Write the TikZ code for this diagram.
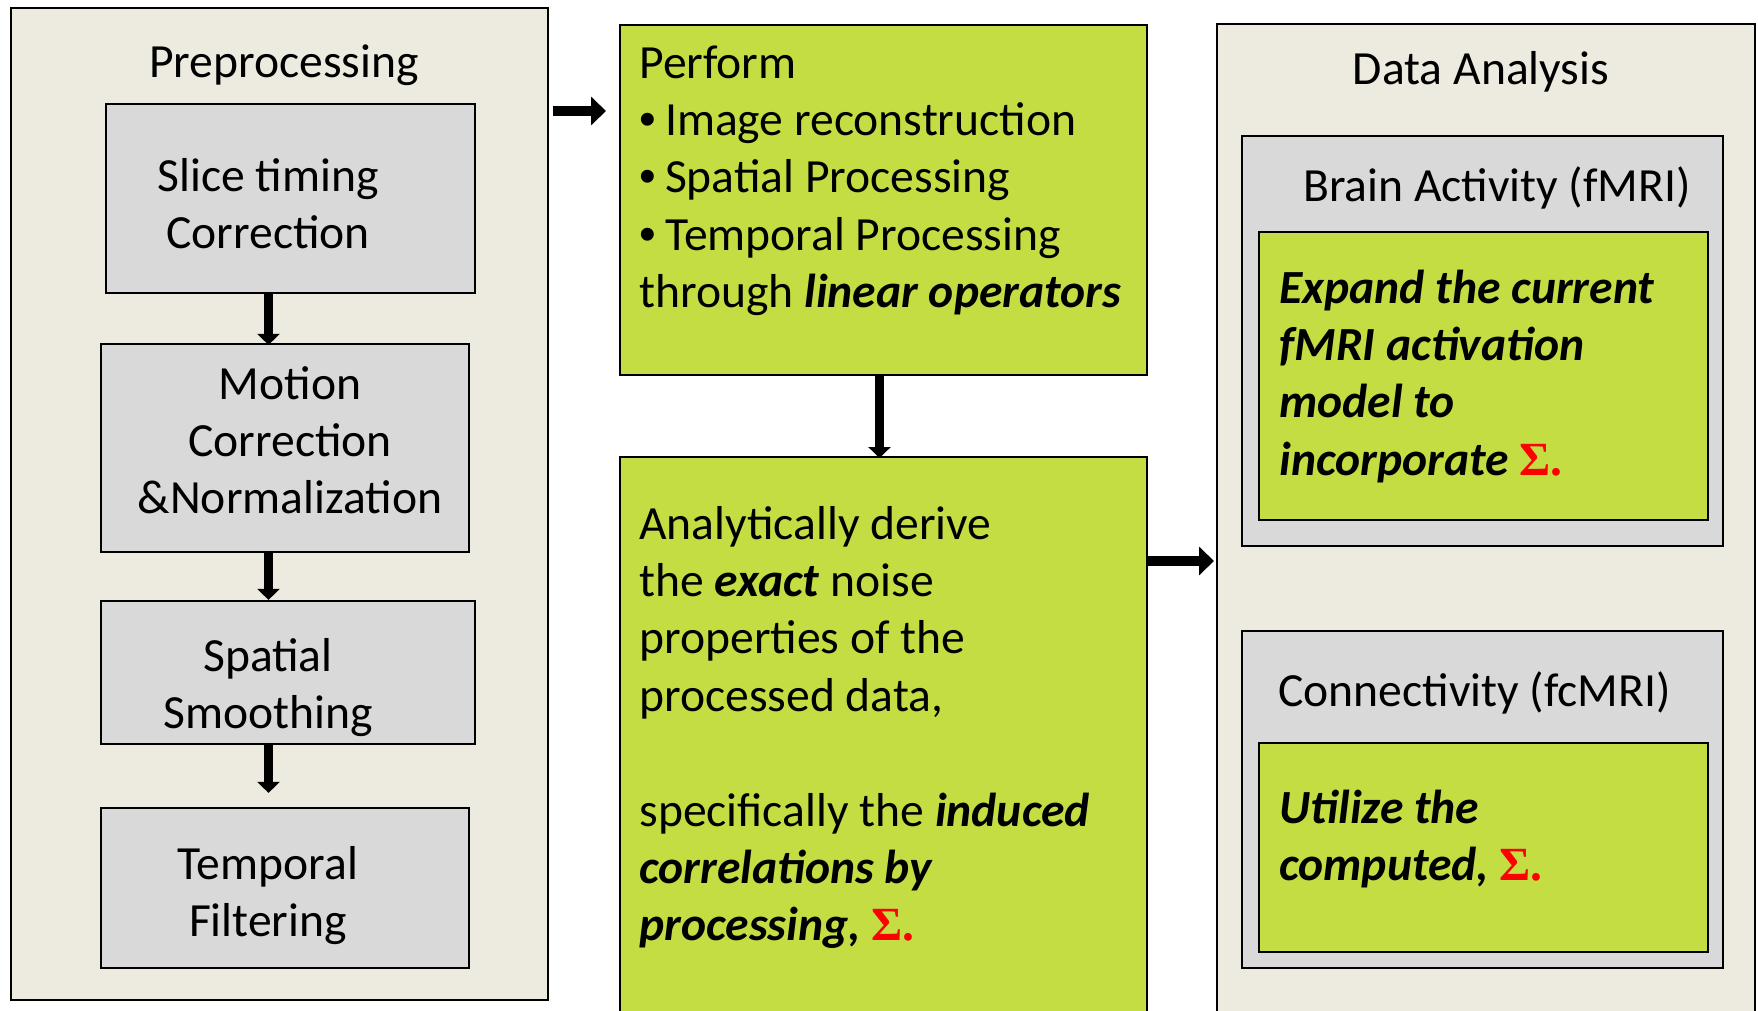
\documentclass[tikz,border=0pt]{standalone}
\usepackage{fontspec}
\setmainfont{Carlito}
\newfontfamily\sigmafont{Liberation Serif}
\newfontfamily\bulletfont{Liberation Sans}
\usetikzlibrary{arrows.meta,fit}
\definecolor{panelbg}{RGB}{237,234,223}
\definecolor{stepgray}{RGB}{217,217,217}
\definecolor{limegreen}{RGB}{196,221,67}
\definecolor{sigmared}{RGB}{255,0,0}
\newcommand{\bfit}[1]{\textbf{\textit{#1}}}
\newcommand{\SigmaMark}{{\sigmafont\bfseries\upshape\color{sigmared}Σ.}}
\newcommand{\bul}{{\bulletfont •}\hspace{4.5pt}}

\begin{document}
% Multi-line text nodes are placed by the baseline of their last line.
\begin{tikzpicture}[x=0.5pt,y=-0.5pt,
  panel/.style={draw=black, fill=panelbg, line width=1pt, inner sep=0pt},
  stepbox/.style={draw=black, fill=stepgray, line width=1.1pt, inner sep=0pt},
  greenbox/.style={draw=black, fill=limegreen, line width=1pt, inner sep=0pt},
  txt/.style={inner sep=0pt, font=\fontsize{23.8pt}{28.7pt}\selectfont},
  ctxt/.style={txt, align=center, anchor=base},
  ltxt/.style={txt, align=left, anchor=base west},
  flow/.style={line width=4.5pt, -{Triangle[length=5.5pt,width=11pt]}},
  bigflow/.style={line width=5pt, -{Triangle[length=7.5pt,width=14pt]}},
]
\path[use as bounding box] (0,0) rectangle (1758,1011);
\clip (0,0) rectangle (1758,1011);

% ---- Preprocessing column ----
\node[panel, fit={(11,8) (548,1000)}] (pre) {};
\node[stepbox, fit={(106,104) (475,293)}] (slice) {};
\node[stepbox, fit={(101,344) (469,552)}] (motion) {};
\node[stepbox, fit={(101,601) (475,744)}] (spatial) {};
\node[stepbox, fit={(101,808) (469,968)}] (temporal) {};

\node[ctxt] (preT) at (284,78) {Preprocessing};
\node[ctxt] (sliceT) at (268,248.4) {Slice timing\\Correction};
\node[ctxt] (motionT) at (290,513.8) {Motion\\Correction\\\&Normalization};
\node[ctxt] (spatialT) at (268,728.4) {Spatial\\Smoothing};
\node[ctxt] (temporalT) at (268,936.4) {Temporal\\Filtering};

% ---- Processing column ----
\node[greenbox, fit={(620,25) (1147,375)}] (perform) {};
\node[greenbox, fit={(620,457) (1147,1040)}] (analytic) {};

\node[ltxt] (performT) at (639,307.6) {Perform\\
  \bul Image reconstruction\\
  \bul Spatial Processing\\
  \bul Temporal Processing\\
  through \bfit{linear operators}};
\node[ltxt] (analyticT) at (639,940.8) {Analytically derive\\
  the \bfit{exact} noise\\
  properties of the\\
  processed data,\\[28.7pt]
  specifically the \bfit{induced}\\
  \bfit{correlations by}\\
  \bfit{processing,} \SigmaMark};

% ---- Data analysis column ----
\node[panel, fit={(1217,24) (1755,1040)}] (analysis) {};
\node[stepbox, fit={(1242,136) (1723,546)}] (brain) {};
\node[greenbox, fit={(1259,232) (1708,520)}] (expand) {};
\node[stepbox, fit={(1242,631) (1723,968)}] (conn) {};
\node[greenbox, fit={(1259,743) (1708,952)}] (utilize) {};

\node[ctxt] (analysisT) at (1481,85) {Data Analysis};
\node[ctxt] (brainT) at (1497,201) {Brain Activity (fMRI)};
\node[ltxt] (expandT) at (1279,475.2) {\bfit{Expand the current}\\
  \bfit{fMRI activation}\\
  \bfit{model to}\\
  \bfit{incorporate} \SigmaMark};
\node[ltxt] (connT) at (1278,706) {Connectivity (fcMRI)};
\node[ltxt] (utilizeT) at (1279,880.4) {\bfit{Utilize the}\\
  \bfit{computed,} \SigmaMark};

% ---- Connectors ----
\coordinate (colx) at (268.5,0);
\coordinate (midx) at (879.5,0);
\coordinate (rowa) at (0,111);
\coordinate (rowb) at (0,561);

\draw[flow, shorten >=-1pt] (slice.south -| colx) -- (motion.north -| colx);
\draw[flow] (motion.south -| colx) -- (spatial.north -| colx);
\draw[flow, shorten >=7pt] (spatial.south -| colx) -- (temporal.north -| colx);
\draw[flow, shorten >=-1pt] (perform.south -| midx) -- (analytic.north -| midx);
\draw[bigflow, shorten <=2pt, shorten >=6.5pt] (pre.east |- rowa) -- (perform.west |- rowa);
\draw[bigflow, shorten <=-1pt, shorten >=1pt] (analytic.east |- rowb) -- (analysis.west |- rowb);
\end{tikzpicture}
\end{document}
